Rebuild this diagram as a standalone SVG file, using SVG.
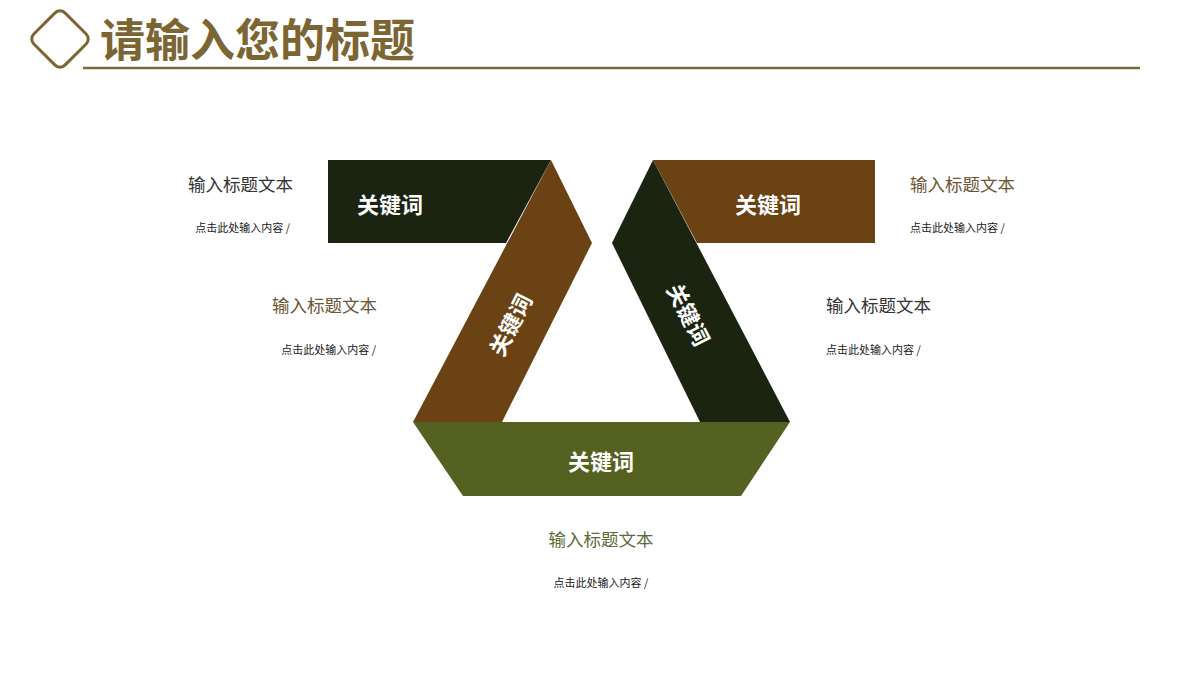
<svg xmlns="http://www.w3.org/2000/svg" width="1200" height="675" viewBox="0 0 1200 675">
<style>
.kw{font-family:"Noto Sans CJK SC","Liberation Sans",sans-serif;font-weight:bold;font-size:22px;fill:#ffffff;text-anchor:middle;dominant-baseline:central}
.ttl{font-family:"Noto Sans CJK SC","Liberation Sans",sans-serif;font-size:17.5px}
.sub{font-family:"Noto Sans CJK SC","Liberation Sans",sans-serif;font-size:11px;fill:#222222}
.dark{fill:#1b2410}.brown{fill:#6a4213}.green{fill:#556121}
</style>
<rect width="1200" height="675" fill="#ffffff"/>
<g id="header">
<rect x="38" y="17" width="44" height="44" rx="7" transform="rotate(45 60 39)" fill="none" stroke="#7b6633" stroke-width="3"/>
<text x="100" y="57" font-family="Noto Sans CJK SC,Liberation Sans,sans-serif" font-weight="bold" font-size="45" fill="#7b6633">请输入您的标题</text>
<line x1="83" y1="68" x2="1140" y2="68" stroke="#7b6a3a" stroke-width="2.5"/>
</g>
<g id="node-top-left">
<polygon class="dark" points="328,160 551,160 506,243 328,243"/>
<text class="kw" x="390" y="203">关键词</text>
</g>
<g id="node-left-diag">
<polygon class="brown" points="551,160 592,243 502,422 413,422"/>
<text class="kw" x="509" y="324" transform="rotate(-63 509 324)">关键词</text>
</g>
<g id="node-top-right">
<polygon class="brown" points="653,160 875,160 875,243 697,243"/>
<text class="kw" x="768" y="203">关键词</text>
</g>
<g id="node-right-diag">
<polygon class="dark" points="653,160 790,422 700,422 612,243"/>
<text class="kw" x="690" y="314" transform="rotate(63 690 314)">关键词</text>
</g>
<g id="node-bottom">
<polygon class="green" points="413,422 790,422 741,496 463,496"/>
<text class="kw" x="601" y="460">关键词</text>
</g>
<g id="labels">
<text class="ttl" x="293" y="191" text-anchor="end" fill="#333333">输入标题文本</text>
<text class="sub" x="290" y="232" text-anchor="end">点击此处输入内容 /</text>
<text class="ttl" x="377" y="312" text-anchor="end" fill="#6b5534">输入标题文本</text>
<text class="sub" x="376" y="354" text-anchor="end">点击此处输入内容 /</text>
<text class="ttl" x="910" y="191" fill="#6b5534">输入标题文本</text>
<text class="sub" x="910" y="232">点击此处输入内容 /</text>
<text class="ttl" x="826" y="312" fill="#333333">输入标题文本</text>
<text class="sub" x="826" y="354">点击此处输入内容 /</text>
<text class="ttl" x="601" y="546" text-anchor="middle" fill="#5d6b3a">输入标题文本</text>
<text class="sub" x="601" y="587" text-anchor="middle">点击此处输入内容 /</text>
</g>
</svg>
